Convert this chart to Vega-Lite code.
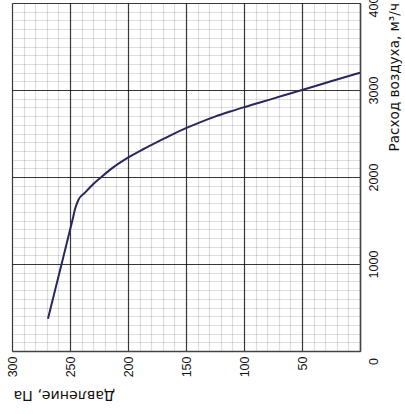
{
  "$schema": "https://vega.github.io/schema/vega-lite/v6.json",
  "width": 348,
  "height": 348,
  "autosize": {"type": "none"},
  "padding": {"left": 12, "top": 3, "right": 45, "bottom": 63},
  "background": "white",
  "config": {"view": {"stroke": null}},
  "data": {
    "values": [
      {"pressure": 269, "flow": 370},
      {"pressure": 258, "flow": 960},
      {"pressure": 250, "flow": 1391},
      {"pressure": 247.2, "flow": 1544},
      {"pressure": 245.7, "flow": 1630},
      {"pressure": 242.8, "flow": 1736},
      {"pressure": 237.1, "flow": 1820},
      {"pressure": 229.9, "flow": 1920},
      {"pressure": 222.7, "flow": 2004},
      {"pressure": 212.7, "flow": 2111},
      {"pressure": 200, "flow": 2222},
      {"pressure": 187, "flow": 2319},
      {"pressure": 175, "flow": 2402},
      {"pressure": 162, "flow": 2488},
      {"pressure": 150, "flow": 2561},
      {"pressure": 138, "flow": 2628},
      {"pressure": 125, "flow": 2694},
      {"pressure": 112, "flow": 2752},
      {"pressure": 100, "flow": 2802},
      {"pressure": 75, "flow": 2901},
      {"pressure": 50, "flow": 3000},
      {"pressure": 25, "flow": 3100},
      {"pressure": 0, "flow": 3199}
    ]
  },
  "mark": {"type": "line", "color": "#28285f", "strokeWidth": 2, "interpolate": "monotone"},
  "encoding": {
    "order": {"field": "pressure", "sort": "descending"},
    "x": {
      "field": "pressure",
      "type": "quantitative",
      "scale": {"domain": [0, 300], "reverse": true, "nice": false, "zero": false},
      "axis": {
        "orient": "bottom",
        "values": [0,10,20,30,40,50,60,70,80,90,100,110,120,130,140,150,160,170,180,190,200,210,220,230,240,250,260,270,280,290,300],
        "format": "d",
        "labelExpr": "datum.value % 50 == 0 && datum.value > 0 ? datum.label : ''",
        "labelAngle": 270,
        "labelAlign": "right",
        "labelBaseline": "middle",
        "labelPadding": 5,
        "labelFont": "Liberation Sans",
        "labelFontSize": 12.5,
        "labelColor": "#111111",
        "labelOverlap": false,
        "labelFlush": false,
        "ticks": false,
        "tickSize": 0,
        "domain": true,
        "domainColor": "#444444",
        "domainWidth": 1.5,
        "grid": true,
        "gridColor": "#000000",
        "gridOpacity": {"condition": {"test": "datum.value % 50 == 0", "value": 0.78}, "value": 0.13},
        "gridWidth": 1.2,
        "title": "Давление, Па",
        "titleAngle": 180,
        "titleAlign": "right",
        "titleBaseline": "bottom",
        "titleX": 1,
        "titleY": 36,
        "titleFont": "DejaVu Sans",
        "titleFontSize": 14.2,
        "titleFontWeight": "normal",
        "titleColor": "#111111"
      }
    },
    "y": {
      "field": "flow",
      "type": "quantitative",
      "scale": {"domain": [0, 4000], "nice": false},
      "axis": {
        "orient": "right",
        "values": [0,100,200,300,400,500,600,700,800,900,1000,1100,1200,1300,1400,1500,1600,1700,1800,1900,2000,2100,2200,2300,2400,2500,2600,2700,2800,2900,3000,3100,3200,3300,3400,3500,3600,3700,3800,3900,4000],
        "format": "d",
        "labelExpr": "datum.value % 1000 == 0 ? datum.label : ''",
        "labelAngle": 270,
        "labelAlign": "center",
        "labelBaseline": "top",
        "labelPadding": 7,
        "labelOffset": {"condition": {"test": "datum.value == 0", "value": 10}, "value": 0},
        "labelFont": "Liberation Sans",
        "labelFontSize": 12.5,
        "labelColor": "#111111",
        "labelOverlap": false,
        "labelFlush": false,
        "ticks": false,
        "tickSize": 0,
        "domain": true,
        "domainColor": "#444444",
        "domainWidth": 1.5,
        "grid": true,
        "gridColor": "#000000",
        "gridOpacity": {"condition": {"test": "datum.value % 1000 == 0", "value": 0.78}, "value": 0.13},
        "gridWidth": 1.2,
        "title": "Расход воздуха, м³/ч",
        "titleAngle": 270,
        "titleAlign": "left",
        "titleBaseline": "top",
        "titleX": 27,
        "titleY": 148,
        "titleFont": "DejaVu Sans",
        "titleFontSize": 13.6,
        "titleFontWeight": "normal",
        "titleColor": "#111111"
      }
    }
  }
}
